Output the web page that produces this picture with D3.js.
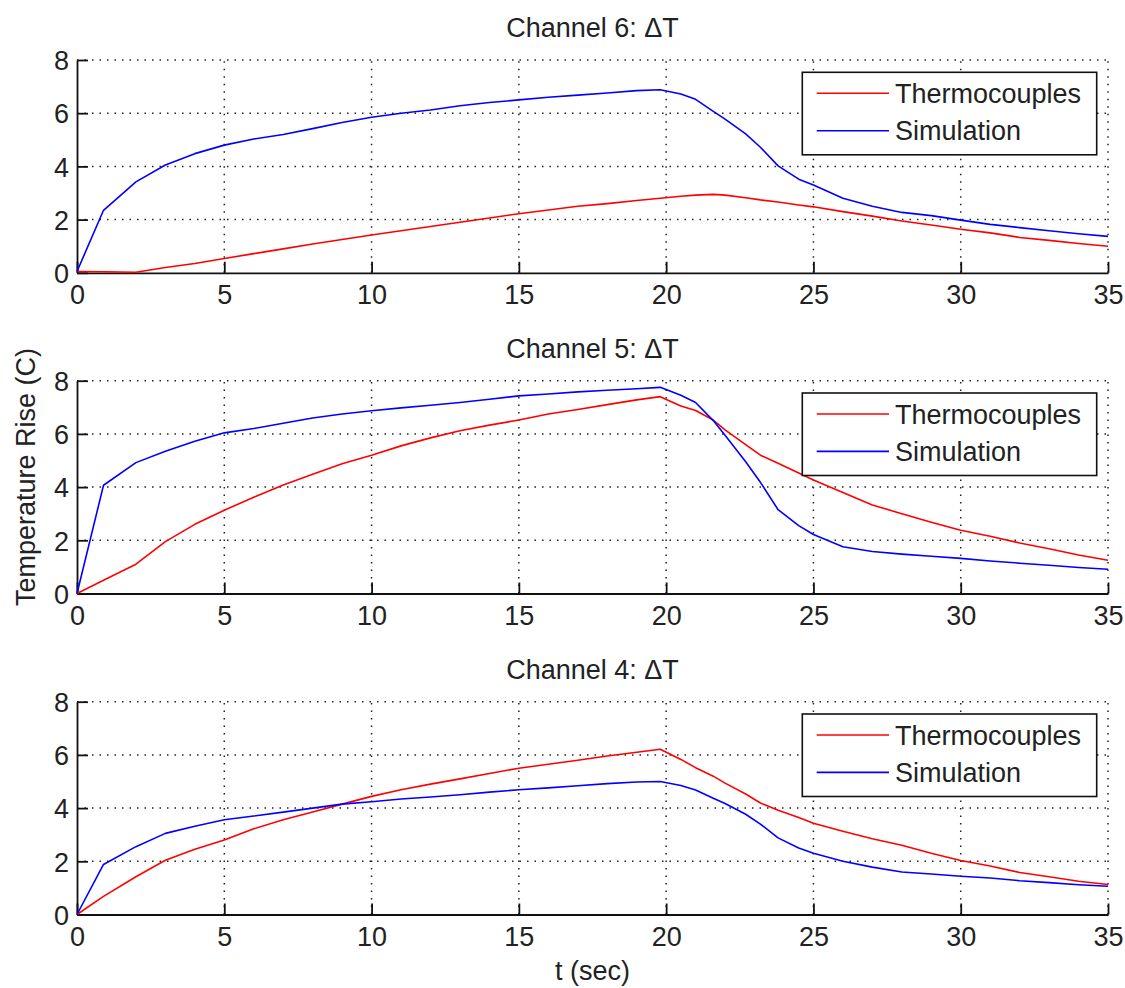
<!DOCTYPE html>
<html>
<head>
<meta charset="utf-8">
<script src="https://cdn.jsdelivr.net/npm/d3@7"></script>
<style>
  html, body { margin: 0; padding: 0; background: #fff; }
  svg { display: block; }
  text { font-family: "Liberation Sans", Arial, Helvetica, sans-serif; fill: #222; }
</style>
</head>
<body>
<svg id="chart" width="1125" height="988"></svg>
<script>
// Sample times (s) shared by every series
const times = [0, 0.9, 2, 3, 4, 5, 6, 7, 8, 9, 10, 11, 12, 13, 14, 15, 16, 17, 18, 19,
  19.8, 20.5, 21, 21.6, 22, 22.7, 23.2, 23.8, 24.5, 25, 26, 27, 28, 29, 30, 31, 32, 33, 34, 35];

// Channel 6 temperature rise (C)
const ch6Thermo = [0.05, 0.04, 0.02, 0.2, 0.35, 0.54, 0.72, 0.9, 1.08, 1.25, 1.42, 1.58, 1.74, 1.9, 2.06, 2.22, 2.36, 2.5, 2.6, 2.72,
  2.8, 2.88, 2.92, 2.95, 2.92, 2.82, 2.74, 2.66, 2.55, 2.48, 2.3, 2.13, 1.95, 1.8, 1.64, 1.5, 1.33, 1.22, 1.1, 1.0];
const ch6Sim = [0.05, 2.35, 3.42, 4.05, 4.48, 4.8, 5.03, 5.2, 5.42, 5.65, 5.85, 6.0, 6.12, 6.28, 6.4, 6.5, 6.6, 6.68, 6.76, 6.85,
  6.88, 6.72, 6.52, 6.07, 5.78, 5.22, 4.72, 4.02, 3.52, 3.3, 2.8, 2.5, 2.27, 2.15, 1.98, 1.82, 1.7, 1.58, 1.47, 1.37];

// Channel 5 temperature rise (C)
const ch5Thermo = [0, 0.5, 1.1, 1.95, 2.6, 3.13, 3.62, 4.08, 4.48, 4.88, 5.2, 5.55, 5.85, 6.12, 6.33, 6.52, 6.75, 6.92, 7.1, 7.28,
  7.4, 7.05, 6.88, 6.52, 6.15, 5.6, 5.2, 4.9, 4.53, 4.27, 3.8, 3.33, 3.0, 2.68, 2.38, 2.15, 1.9, 1.68, 1.45, 1.25];
const ch5Sim = [0, 4.07, 4.92, 5.35, 5.72, 6.04, 6.2, 6.4, 6.6, 6.75, 6.87, 6.98, 7.08, 7.18, 7.3, 7.43, 7.5, 7.58, 7.64, 7.7,
  7.75, 7.45, 7.18, 6.5, 5.95, 4.95, 4.18, 3.15, 2.55, 2.22, 1.76, 1.58, 1.48, 1.4, 1.32, 1.22, 1.14, 1.06, 0.98, 0.91];

// Channel 4 temperature rise (C)
const ch4Thermo = [0, 0.68, 1.42, 2.04, 2.45, 2.8, 3.22, 3.56, 3.85, 4.15, 4.44, 4.69, 4.9, 5.1, 5.3, 5.5, 5.65, 5.8, 5.96, 6.1,
  6.21, 5.83, 5.52, 5.2, 4.94, 4.53, 4.19, 3.92, 3.65, 3.43, 3.13, 2.85, 2.6, 2.3, 2.03, 1.82, 1.58, 1.42, 1.25, 1.13];
const ch4Sim = [0, 1.88, 2.55, 3.05, 3.32, 3.56, 3.7, 3.85, 4.0, 4.15, 4.24, 4.34, 4.42, 4.5, 4.6, 4.69, 4.76, 4.84, 4.92, 4.98,
  5.0, 4.85, 4.68, 4.37, 4.17, 3.77, 3.4, 2.88, 2.5, 2.3, 2.0, 1.78, 1.6, 1.52, 1.44, 1.37, 1.27, 1.2, 1.12, 1.06];

const panelTitles = ["Channel 6: \u0394T", "Channel 5: \u0394T", "Channel 4: \u0394T"];
const seriesNames = ["Thermocouples", "Simulation"];
const seriesColors = ["#ff0000", "#0000ff"];
const xTicks = [0, 5, 10, 15, 20, 25, 30, 35];
const yTicks = [0, 2, 4, 6, 8];
const xLabel = "t (sec)";
const yLabel = "Temperature Rise (C)";

const panels = [
  { title: panelTitles[0], series: [ch6Thermo, ch6Sim] },
  { title: panelTitles[1], series: [ch5Thermo, ch5Sim] },
  { title: panelTitles[2], series: [ch4Thermo, ch4Sim] }
];

const svg = d3.select("#chart");
const FONT = 27;
const left = 77, right = 1108;
const panelTops = [60, 380.7, 701.7];
const panelH = 212.8;

const x = d3.scaleLinear().domain([0, 35]).range([left, right]);

panels.forEach((p, i) => {
  const top = panelTops[i];
  const bottom = top + panelH;
  const y = d3.scaleLinear().domain([0, 8]).range([bottom, top]);
  const g = svg.append("g");

  // dotted grid
  const grid = g.append("g")
    .attr("stroke", "#222").attr("stroke-width", 1.5).attr("stroke-dasharray", "1.5,6");
  grid.selectAll(".gx").data(xTicks.filter(d => d > 0)).join("line")
    .attr("x1", d => x(d)).attr("x2", d => x(d))
    .attr("y1", bottom).attr("y2", top);
  grid.selectAll(".gy").data(yTicks.filter(d => d > 0)).join("line")
    .attr("x1", left).attr("x2", right)
    .attr("y1", d => y(d)).attr("y2", d => y(d));

  // axes
  const xAxis = g.append("g").attr("transform", `translate(0,${bottom})`)
    .call(d3.axisBottom(x).tickValues(xTicks).tickFormat(d3.format("d"))
      .tickSizeInner(-11).tickSizeOuter(0).tickPadding(12.5));
  const yAxis = g.append("g").attr("transform", `translate(${left},0)`)
    .call(d3.axisLeft(y).tickValues(yTicks).tickFormat(d3.format("d"))
      .tickSizeInner(-11).tickSizeOuter(0).tickPadding(8));
  [xAxis, yAxis].forEach(a => {
    a.selectAll("path.domain").attr("stroke", "#111").attr("stroke-width", 1.8);
    a.selectAll(".tick line").attr("stroke", "#111").attr("stroke-width", 1.8);
    a.selectAll(".tick text").attr("font-size", FONT).attr("fill", "#222")
      .attr("font-family", '"Liberation Sans", Arial, sans-serif');
  });
  yAxis.selectAll(".tick text").attr("dy", "0.36em");

  // data lines
  const line = d3.line().x((d, k) => x(times[k])).y(d => y(d));
  p.series.forEach((vals, s) => {
    g.append("path").datum(vals)
      .attr("fill", "none").attr("stroke", seriesColors[s])
      .attr("stroke-width", 1.6).attr("stroke-linejoin", "round")
      .attr("d", line);
  });

  // title
  g.append("text").attr("x", (left + right) / 2).attr("y", top - 23)
    .attr("text-anchor", "middle").attr("font-size", FONT).text(p.title);

  // legend
  const lx = 802.3, ly = top + 12.3, lw = 294.4, lh = 82.5;
  const leg = g.append("g");
  leg.append("rect").attr("x", lx).attr("y", ly).attr("width", lw).attr("height", lh)
    .attr("fill", "#fff").attr("stroke", "#111").attr("stroke-width", 1.6);
  seriesNames.forEach((name, s) => {
    const ry = ly + 21 + s * 37.4;
    leg.append("line").attr("x1", lx + 14.4).attr("x2", lx + 86.7)
      .attr("y1", ry).attr("y2", ry)
      .attr("stroke", seriesColors[s]).attr("stroke-width", 1.6);
    leg.append("text").attr("x", lx + 92.7).attr("y", ry).attr("dy", "0.36em")
      .attr("font-size", FONT).text(name);
  });
});

// shared axis labels
svg.append("text").attr("x", (left + right) / 2).attr("y", 980)
  .attr("text-anchor", "middle").attr("font-size", FONT).text(xLabel);
svg.append("text")
  .attr("transform", `translate(35,477) rotate(-90)`)
  .attr("text-anchor", "middle").attr("font-size", FONT).text(yLabel);
</script>
</body>
</html>
